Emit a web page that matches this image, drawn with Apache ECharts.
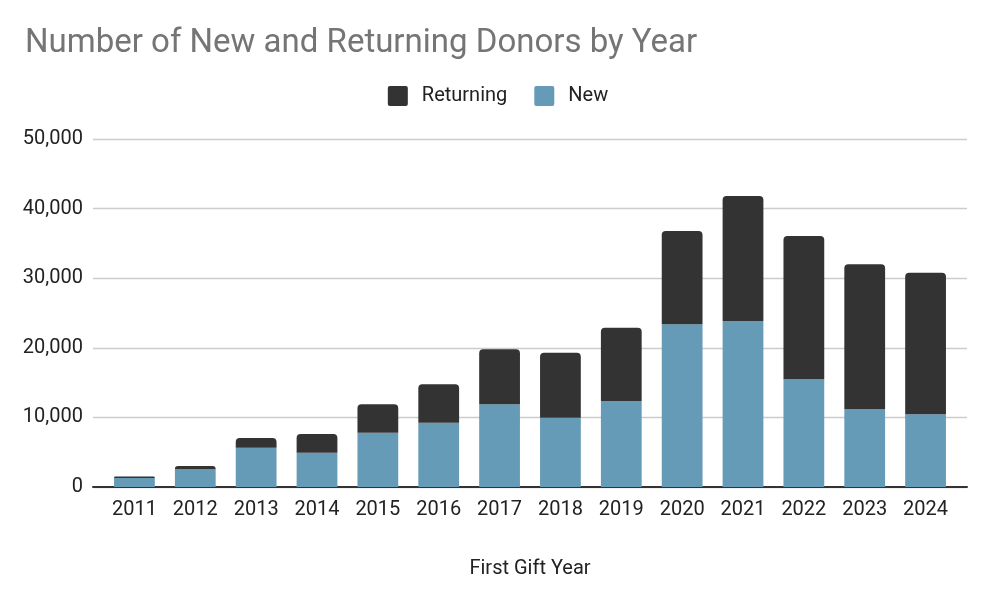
<!DOCTYPE html>
<html><head><meta charset="utf-8">
<script src="https://cdn.jsdelivr.net/npm/echarts@6/dist/echarts.min.js"></script>
<style>html,body{margin:0;padding:0;background:#fff}#c{width:996px;height:606px}</style>
</head><body><div id="c"></div>
<script>
const years = ['2011','2012','2013','2014','2015','2016','2017','2018','2019','2020','2021','2022','2023','2024'];
const newDonors = [1300, 2550, 5650, 4930, 7800, 9240, 11880, 9960, 12360, 23370, 23850, 15470, 11160, 10440];
const returningDonors = [200, 450, 1400, 2680, 4080, 5510, 7900, 9340, 10530, 13410, 17960, 20590, 20840, 20350];
const yTicks = [0, 10000, 20000, 30000, 40000, 50000];

const font = 'Roboto';
const squareIcon = 'path://M2,0 H18 A2,2 0 0 1 20,2 V18 A2,2 0 0 1 18,20 H2 A2,2 0 0 1 0,18 V2 A2,2 0 0 1 2,0 Z';
const chart = echarts.init(document.getElementById('c'), null, {renderer:'canvas'});
chart.setOption({
  animation: false,
  textStyle: {fontFamily: font},
  title: {
    text: 'Number of New and Returning Donors by Year',
    left: 20, top: 22,
    textStyle: {fontSize: 33, fontWeight: 'normal', color: '#757575', fontFamily: font}
  },
  legend: {
    data: ['Returning', 'New'],
    top: 81, left: 'center',
    itemWidth: 20, itemHeight: 20, itemGap: 27,
    icon: squareIcon,
    textStyle: {fontSize: 20, color: '#222', fontFamily: font, padding: [0,0,0,9]}
  },
  grid: [
    {left: 93, right: 29, top: 139, bottom: 119},
    {left: 104, right: 40, top: 139, bottom: 119}
  ],
  xAxis: [
    {type: 'value', gridIndex: 0, min: 0, max: 1, show: true,
     axisLine: {show: true, onZero: false, lineStyle: {color: '#333', width: 2}},
     axisTick: {show: false}, axisLabel: {show: false}, splitLine: {show: false}},
    {type: 'category', gridIndex: 1, data: years,
     name: 'First Gift Year', nameLocation: 'middle', nameGap: 72,
     nameTextStyle: {fontSize: 20, color: '#222', fontFamily: font},
     axisLine: {show: false},
     axisTick: {show: false},
     axisLabel: {fontSize: 20, color: '#222', margin: 13, fontFamily: font}}
  ],
  yAxis: [
    {type: 'value', gridIndex: 0, min: 0, max: 50000, interval: 10000,
     axisLine: {show: false}, axisTick: {show: false},
     splitLine: {lineStyle: {color: '#cccccc', width: 1.3}},
     axisLabel: {
       fontSize: 20, color: '#222', margin: 10, fontFamily: font,
       formatter: v => yTicks.includes(v) ? v.toLocaleString('en-US') : ''
     }},
    {type: 'value', gridIndex: 1, min: 0, max: 50000, interval: 10000, show: false,
     splitLine: {show: false}}
  ],
  series: [
    {name: 'New', type: 'bar', stack: 'd', data: newDonors, barWidth: '67%',
     xAxisIndex: 1, yAxisIndex: 1, itemStyle: {color: '#659bb7'}},
    {name: 'Returning', type: 'bar', stack: 'd', data: returningDonors, barWidth: '67%',
     xAxisIndex: 1, yAxisIndex: 1, itemStyle: {color: '#333333', borderRadius: [4,4,0,0]}}
  ]
});
</script></body></html>
